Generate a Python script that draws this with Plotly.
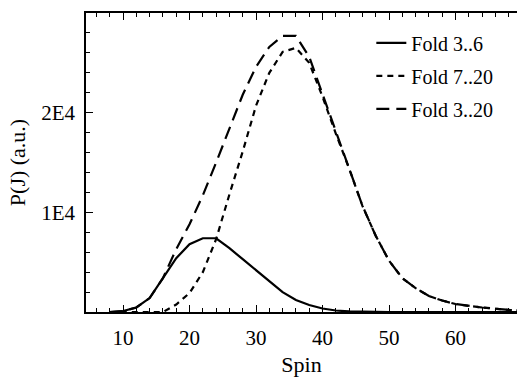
import plotly.graph_objects as go

spin = [8, 10, 12, 14, 16, 18, 20, 22, 24, 26, 28, 30, 32, 34, 36, 38,
        40, 42, 44, 46, 48, 50, 52, 54, 56, 58, 60, 62, 64, 66, 68, 70]
fold_3_6 = [0, 100, 450, 1400, 3400, 5400, 6800, 7400, 7400, 6400, 5300, 4200,
            3100, 2000, 1200, 700, 350, 150, 60, 20, 0, 0, 0, 0, 0, 0, 0, 0,
            0, 0, 0, 0]
fold_7_20 = [0, 0, 0, 0, 0, 750, 1900, 4000, 7300, 11800, 16100, 20700,
             24000, 26100, 26500, 25000, 21600, 17900, 14400, 10650, 7650, 5150,
             3400, 2400, 1600, 1150, 800, 600, 450, 320, 200, 130]
fold_3_20 = [0, 100, 450, 1400, 3400, 6300, 8800, 11700, 15000, 18400, 21800,
             24600, 26600, 27700, 27700, 25600, 21900, 18050, 14460, 10670,
             7650, 5150, 3400, 2400, 1600, 1150, 800, 600, 450, 320, 200, 130]
names = ["Fold 3..6", "Fold 7..20", "Fold 3..20"]
y_tickvals = [10000, 20000]
y_ticktext = ["1E4", "2E4"]
x_tickvals = [10, 20, 30, 40, 50, 60]

FONT = "Liberation Serif"
fig = go.Figure()
series = [fold_3_6, fold_7_20, fold_3_20]
dashes = ["solid", "6px,5px", "13px,7px"]
for i, (vals, nm, ds) in enumerate(zip(series, names, dashes)):
    fig.add_trace(go.Scatter(x=spin, y=vals, mode="lines", name=nm,
                             legendgroup=str(i),
                             line=dict(color="black", width=2.2, dash=ds)))

axis_common = dict(showline=True, linecolor="black", linewidth=1.5,
                   ticks="inside", tickcolor="black", tickwidth=1.2,
                   showgrid=False, zeroline=False, automargin=False,
                   tickfont=dict(family=FONT, size=21, color="black"))
fig.update_xaxes(range=[4.43, 69.25], tickvals=x_tickvals, ticklen=7,
                 mirror="ticks", ticklabelstandoff=6,
                 minor=dict(dtick=2, ticks="inside", ticklen=4,
                            tickcolor="black", tickwidth=1),
                 title=dict(text="Spin", font=dict(family=FONT, size=22,
                                                   color="black"),
                            standoff=12),
                 **axis_common)
fig.update_yaxes(range=[0, 30000], tickvals=y_tickvals, ticktext=y_ticktext,
                 ticklen=7, ticklabelstandoff=5,
                 minor=dict(dtick=2000, ticks="inside", ticklen=4,
                            tickcolor="black", tickwidth=1),
                 title=dict(text="P(J) (a.u.)", font=dict(family=FONT, size=22,
                                                          color="black"),
                            standoff=10),
                 **axis_common)
fig.update_layout(width=517, height=377,
                  margin=dict(l=86, r=0, t=13, b=65),
                  paper_bgcolor="white", plot_bgcolor="white",
                  showlegend=True,
                  legend=dict(x=0.662, y=0.965, xanchor="left", yanchor="top",
                              bgcolor="rgba(0,0,0,0)", tracegroupgap=4,
                              font=dict(family=FONT, size=20, color="black")))
fig.write_html("out.html", config={"displayModeBar": False},
               post_script="document.body.style.margin='0';document.body.style.padding='0';")
